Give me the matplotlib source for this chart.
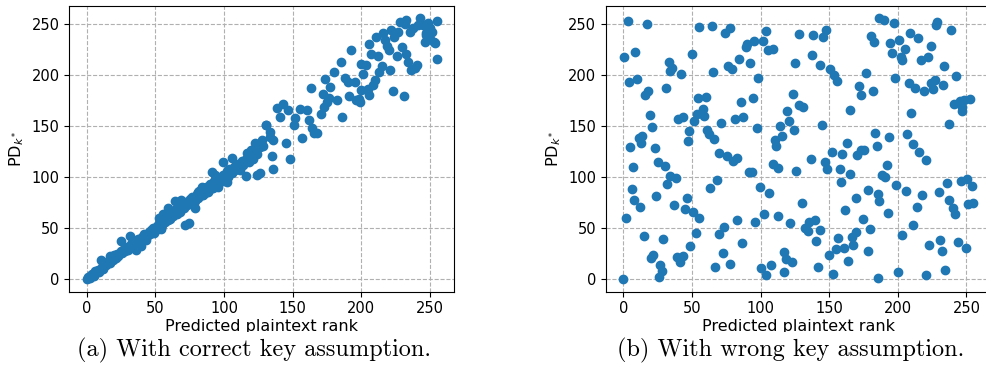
import matplotlib
matplotlib.use("Agg")
import matplotlib.pyplot as plt
from matplotlib.patches import Rectangle

# (a) correct key: predicted rank vs PD_k*  (dense diagonal band)
correct_x = [
    0, 3, 7, 10.5, 16.6, 20, 24.6, 31.7, 36, 39.8, 43, 47, 50, 54, 52.7, 55.6, 59, 43,
    54.4, 55.6, 58, 64, 69, 67.8, 71.5, 74.6, 77.6, 78.8, 81.4, 83.7, 84.9, 88.3, 91, 93.4,
    95.9, 98.3, 101.9, 103, 99, 105.6, 109, 111.7, 116, 117, 120, 123.9, 122.7, 127.5,
    130.7, 133.7,
    126.3, 128.8, 131, 133.7, 136, 138.9, 141, 143, 145, 147, 148, 136, 135, 150.7, 151.9,
    155.6, 157, 160.6, 161.7, 163.2, 164.4, 165.6, 168, 170.5, 173, 173.6, 172.4, 175,
    176.6, 177, 179.9, 182.4, 186, 185, 188, 190.7, 191, 192.7, 195.4, 196.6, 198.5, 200,
    201.5, 200, 206, 207, 205, 206,
    199, 203.4, 204, 208.5, 211, 212.4, 210, 213, 215, 215.6, 217.3, 218.5, 220.5, 221,
    222, 223, 224, 226, 227, 228, 230, 231, 232.6, 231.9, 233, 234.3, 235.5, 236.7, 238,
    239, 240.4, 241.6, 243, 245, 246.4, 247.6, 249, 250, 251.5, 253, 253.5, 255, 255, 250,
    247,
    1, 2, 4, 5, 6, 8, 9, 11, 12, 13, 14, 15, 17, 18, 19, 21, 22, 23, 25, 26, 27, 28, 29,
    30, 32, 33, 34, 35, 37, 38, 40, 41, 42, 44, 45, 46, 48, 49, 51, 52, 53, 55, 56, 57,
    58, 59, 60, 61, 62, 63, 65, 66, 67, 68, 70, 71, 72, 73, 75, 76, 77, 79, 80, 81, 82,
    84, 85, 86, 87, 89, 90, 92, 93, 94, 96, 97, 99, 100, 102, 103, 104, 106, 107, 108,
    110, 112, 113, 114, 116, 118, 119, 121, 123, 124, 126,
]
correct_y = [
    0, 4, 7, 18.6, 22, 23.5, 36.6, 42, 28.4, 31.7, 38, 48, 48, 50, 59.5, 64, 69, 43,
    48.7, 58, 64, 76, 77.5, 67.6, 53, 54.6, 77.5, 69, 85.6, 90.5, 82, 85.6, 104.6, 102,
    90.5, 98.7, 95.4, 103.6, 115, 118.3, 111.8, 106.9, 101, 123, 126.5, 102, 133, 136,
    151, 144.4,
    103.6, 130, 151, 139.5, 136, 168, 159, 172, 133, 166, 118, 107.5, 120.6, 151, 157.5,
    167, 138, 166, 156, 187, 147.7, 142.8, 143, 162, 169, 196, 181, 173.5,
    177, 188, 203, 175, 159, 213, 197, 193.5, 179, 225, 193.5, 175.5, 176, 185,
    200.6, 211, 230, 221, 186, 180,
    174, 210, 185, 190, 237.6, 219, 195, 202.6, 208.5, 241, 234.6, 228.4, 224.5, 205,
    244, 184, 237.6, 218.6, 242.5, 252, 227.4, 179, 221, 249.7, 254, 213, 242.5, 205, 246.4,
    206.9, 210, 249, 255.5, 249, 232.7, 241, 250.6, 245.8, 242.5, 232.7, 231, 215.7, 253, 235,
    239,
    2, 1, 5, 3, 8, 9, 7, 12, 10, 14, 13, 16, 15, 19, 18, 20, 24, 22, 27, 25, 29, 27, 31,
    28, 34, 31, 36, 33, 39, 36, 41, 38, 44, 42, 46, 44, 50, 45, 52, 49, 55, 53, 60, 56,
    61, 58, 63, 59, 65, 62, 68, 64, 70, 66, 73, 69, 75, 72, 78, 74, 80, 76, 83, 79, 86,
    82, 88, 84, 90, 87, 93, 89, 96, 92, 99, 95, 102, 98, 106, 100, 108, 104, 110, 107,
    113, 110, 116, 112, 118, 115, 121, 118, 125, 122, 129,
]

# (b) wrong key: no relation
wrong_x = [
    3.2, 17.3, 0.2, 8.5, 33, 35.6, 34, 42, 4, 10, 31, 18, 16, 55, 50, 54.4, 53.7, 51.7,
    19, 21, 43.4, 40, 47.5, 47, 11.2, 13.7, 13, 4.9, 23, 6.8, 25, 30.5, 34, 38.5, 32, 5.9,
    8, 12, 24, 46, 37, 45, 51, 2, 55, 14.9, 29, 53, 48.8, 21.7, 20, 26.8, 27.8, 26, 0, 39,
    43.7, 41,
    64.6, 73.9, 77.6, 89, 90.2, 95.4, 101.5, 104.1, 105.6, 108.8, 84.1, 92.2, 75.9, 78.8,
    64.9, 98.3, 60, 58, 59, 85.4, 94.1, 86.8, 81.5, 71, 97.3, 61, 62.2, 66.1, 70, 75.4, 80,
    82.9, 91.2, 93.7, 68.5, 63.2, 99.5, 106.3, 73.2, 69.5, 82.7, 96.1, 102.4, 112.9, 86.3,
    72.2, 67, 78, 100, 103.9, 107.3, 114.1, 115.6, 110.5, 111.5, 109, 112.7,
    119.3, 120.7, 124.6, 123.4, 127.6, 138.5, 145.4, 147.3, 137.6, 125.4, 143.4, 150.7,
    153.2, 155.9, 128.3, 131.2, 144.4, 136.6, 146.8, 148.5, 151.9, 125.9, 157.6, 158.5,
    165.4, 159.5, 162.7, 170.2, 173.2, 175.6, 164.9, 171.7, 172.9, 176.8, 181.9, 180.7,
    182.4, 186.3, 183.7, 184.6, 178.5, 169.3, 161.5, 174.4, 179.5, 169.3, 166.8, 167.6,
    178, 156.3, 154.6, 160.5, 163.9, 149.8, 152.4, 141.7, 130.2, 132.4, 135.1, 139.3,
    134.4, 143, 140.5, 121.7, 117.1, 118.5, 122.7, 116.8, 185.9, 186.3, 185.6,
    190, 197, 194.4, 200.7, 195.6, 204.9, 202.2, 203.2, 208.7, 215, 224.5, 216.7, 221.8,
    228.4, 228, 238.6, 233.7, 242.7, 197.8, 207.8, 212.9, 219, 224.3, 225.7, 226.9, 233.3,
    241, 245.1, 248.3, 252.9, 247.1, 246.6, 209.7, 237.4, 193.9, 207, 210.9, 215.5, 220.4,
    192, 188.8, 190.5, 198.8, 206, 193, 214.1, 217.7, 229.9, 235.9, 237.1, 240, 241.5,
    246.1, 250.7, 254, 251.5, 254.9, 211.4, 203.4, 222.8, 230.6, 232, 243.7, 249.9, 199.8,
    220.6, 234.7,
]
wrong_y = [
    253, 250, 218, 223, 213, 207, 204, 201, 193, 196, 187, 184, 180, 247, 221, 177, 162,
    155, 161, 149, 158.5, 157, 145, 135, 138, 140, 133, 129, 128, 110, 115, 111, 101, 99,
    93, 88, 77, 70, 81, 79, 72, 68, 66, 60, 60, 42, 39, 45, 32, 23, 20, 13, 8, 2, 0, 21,
    22, 16,
    248, 241.5, 246, 227.8, 230.4, 233.7, 233.3, 243.1, 224.2, 225.8, 215.7, 211.4, 208.5,
    205.9, 203.3, 197.4, 178.4, 167, 159.8, 173.5, 177.8, 159.2, 156.5, 152.6, 148.4, 146.4,
    141.8, 136.9, 123.2, 120.3, 115.7, 119, 104.6, 105.2, 96.7, 89.2, 89.9, 84, 51, 44.1,
    57.8, 55.6, 64, 61.8, 35.3, 25.2, 11.8, 14.4, 10.5, 3.9, 13.7, 150, 140.5, 136.3, 130.7,
    112.7, 108.5,
    165, 155.2, 146.1, 181.4, 240.2, 239.2, 237.3, 243.8, 219.9, 212.1, 210.1, 205.6, 200,
    194.1, 170.6, 169, 151.3, 118, 114.4, 107.5, 124.2, 105.9, 108.2, 95.4, 102.9, 122.2,
    133.7, 121.2, 126.8, 126.1, 165.7, 189.2, 180.7, 202.3, 184.3, 238.2, 232, 255.6, 143.5,
    130.1, 86.9, 79.7, 67, 58.5, 48.7, 45.8, 40.8, 32.7, 27.5, 39.5, 28.8, 29.7, 17.6,
    23.5, 4.9, 11.1, 73.9, 50, 55.6, 57.2, 46.7, 48, 36.6, 54.9, 26.1, 19.6, 16.7, 6.2,
    0.7, 76.5, 83,
    253.9, 250.7, 231, 234.6, 221.9, 225.2, 218, 214.7, 240.8, 236.3, 228.8, 214.4, 217.3,
    252.3, 249.3, 244.4, 209.2, 199.3, 196.7, 192.5, 187.6, 184.6, 191.8, 186, 195.1, 189.9,
    171.6, 174.8, 175.5, 176.5, 169, 164.4, 162.7, 152, 138.9, 142.5, 132.4, 124.5, 117,
    112.1, 102.3, 100, 92.2, 85.9, 64.7, 70.6, 82, 85, 93.5, 77.5, 69.3, 63.4, 95.8, 98,
    91.5, 72.9, 74.8, 52.6, 42.5, 33.3, 38.2, 26.8, 35.9, 30.4, 6.9, 3.3, 8.5,
]

captions = ["(a) With correct key assumption.", "(b) With wrong key assumption."]
ticks = [0, 50, 100, 150, 200, 250]

fig = plt.figure(figsize=(9.86, 3.65), dpi=100)
ax1 = fig.add_axes([0.0703, 0.2008, 0.3902, 0.7827])
ax2 = fig.add_axes([0.6146, 0.2008, 0.3902, 0.7827])

for ax, xs, ys in [(ax1, correct_x, correct_y), (ax2, wrong_x, wrong_y)]:
    ax.scatter(xs, ys, s=36, color="#1f77b4")
    ax.set_xlim(-12.75, 267.75)
    ax.set_ylim(-12.75, 267.75)
    ax.set_xticks(ticks)
    ax.set_yticks(ticks)
    ax.tick_params(labelsize=10.5)
    ax.set_axisbelow(True)
    ax.grid(True, linestyle="--", color="#b0b0b0", linewidth=0.8)
    ax.set_xlabel("Predicted plaintext rank", fontsize=11.5, labelpad=2)
    ax.set_ylabel(r"PD$_{k^*}$", fontsize=11.5)

# right subfigure is cut off at the image edge
ax2.spines["right"].set_visible(False)

# the subfigures are cropped just under the x label, caption below
fig.patches.append(Rectangle((0, 0), 1, (365 - 332) / 365, transform=fig.transFigure,
                             facecolor="white", edgecolor="none", zorder=5))
fig.text(254 / 986, 1 - 350 / 365, captions[0], ha="center", va="center",
         fontfamily="cmr10", fontsize=17.5, zorder=6)
fig.text(790.5 / 986, 1 - 350 / 365, captions[1], ha="center", va="center",
         fontfamily="cmr10", fontsize=17.5, zorder=6)

fig.savefig("out.png", dpi=100)
